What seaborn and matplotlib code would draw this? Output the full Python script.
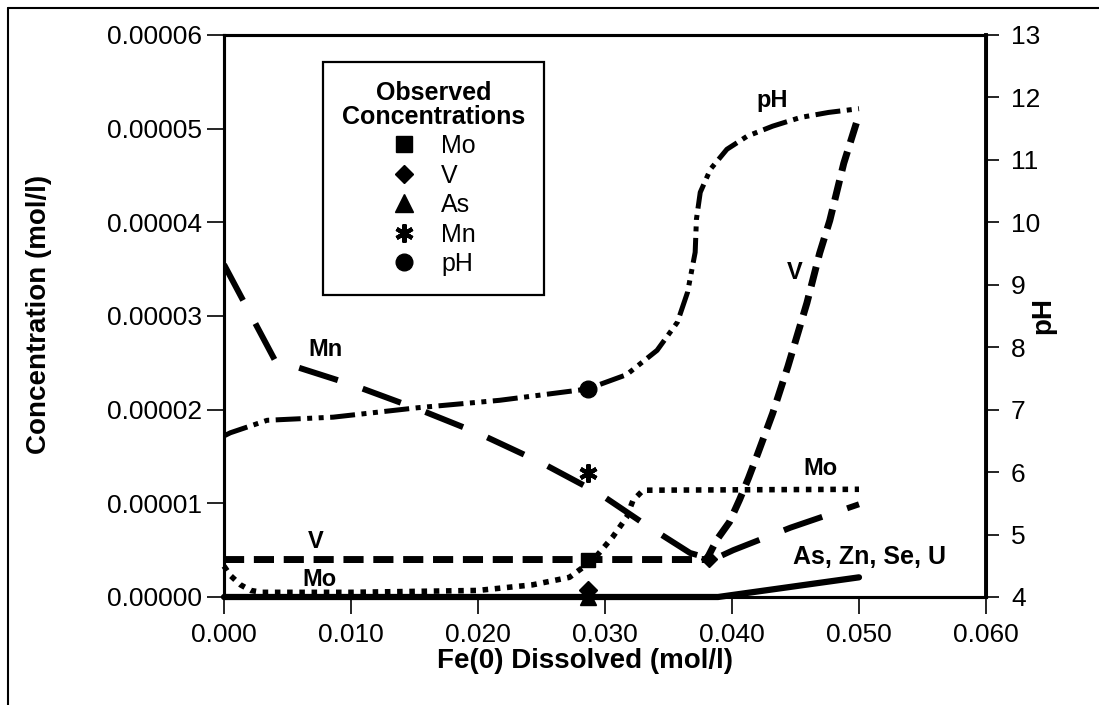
import matplotlib
matplotlib.use("Agg")
import matplotlib.pyplot as plt
import seaborn as sns
from matplotlib.lines import Line2D
from matplotlib.ticker import FormatStrFormatter, MultipleLocator

# values (x = Fe(0) dissolved, mol/l)
fe_mn = [0.0, 0.0040, 0.0100, 0.0154, 0.0200, 0.0249, 0.0296, 0.0331, 0.0367, 0.0385, 0.0401, 0.0446, 0.0500]
mn = [3.55e-5, 2.53e-5, 2.27e-5, 2.00e-5, 1.75e-5, 1.44e-5, 1.10e-5, 0.78e-5, 0.47e-5, 0.40e-5, 0.50e-5, 0.74e-5, 0.99e-5]

fe_v = [0.0, 0.0380, 0.0388, 0.0398, 0.0406, 0.0413, 0.0420, 0.0432, 0.0444, 0.0459, 0.0469, 0.0477, 0.0488, 0.0500]
v = [0.40e-5, 0.40e-5, 0.61e-5, 0.80e-5, 1.04e-5, 1.27e-5, 1.52e-5, 1.96e-5, 2.46e-5, 3.14e-5, 3.67e-5, 4.02e-5, 4.63e-5, 5.15e-5]

fe_mo = [0.0, 0.0005, 0.0013, 0.0021, 0.0030, 0.0100, 0.0200, 0.0243, 0.0272, 0.0291, 0.0306, 0.0317, 0.0322, 0.0330, 0.0500]
mo = [0.33e-5, 0.23e-5, 0.13e-5, 0.07e-5, 0.05e-5, 0.05e-5, 0.07e-5, 0.13e-5, 0.21e-5, 0.40e-5, 0.64e-5, 0.85e-5, 1.03e-5, 1.14e-5, 1.15e-5]

fe_as = [0.0, 0.0389, 0.0500]
as_zn = [0.0, 0.0, 0.21e-5]

fe_ph = [0.0, 0.0005, 0.0034, 0.0086, 0.0152, 0.0217, 0.0286, 0.0317, 0.0341, 0.0357, 0.0365,
         0.0371, 0.0372, 0.0375, 0.0383, 0.0396, 0.0412, 0.0432, 0.0454, 0.0476, 0.0500]
ph = [6.58, 6.63, 6.83, 6.88, 7.03, 7.15, 7.33, 7.56, 7.95, 8.40, 8.88,
      9.52, 10.05, 10.48, 10.85, 11.17, 11.38, 11.54, 11.68, 11.76, 11.82]

# observed points
obs_fe = 0.02866
obs_mo = 0.40e-5
obs_v = 0.07e-5
obs_as = 0.0
obs_mn = 1.32e-5
obs_ph = 7.33
obs2_fe = 0.0382
obs2_v = 0.41e-5

sns.set_theme(style="ticks")
plt.rcParams["font.family"] = ["Liberation Sans", "DejaVu Sans"]
plt.rcParams["text.color"] = "black"
plt.rcParams["axes.labelcolor"] = "black"

fig, ax = plt.subplots(figsize=(10.99, 7.05), dpi=100)
fig.subplots_adjust(left=224 / 1099, right=986 / 1099, top=1 - 35 / 705, bottom=1 - 597 / 705)
ax2 = ax.twinx()

k = "black"
sns.lineplot(x=fe_mn, y=mn, ax=ax, color=k, lw=4.3, linestyle=(0, (6.8, 4.4)), errorbar=None)
sns.lineplot(x=fe_v, y=v, ax=ax, color=k, lw=5.0, linestyle=(0, (2.9, 1.4)), errorbar=None)
sns.lineplot(x=fe_mo, y=mo, ax=ax, color=k, lw=4.0, linestyle=(0, (1.0, 1.2)), errorbar=None, clip_on=False)
sns.lineplot(x=fe_as, y=as_zn, ax=ax, color=k, lw=4.5, errorbar=None, clip_on=False)
sns.lineplot(x=fe_ph, y=ph, ax=ax2, color=k, lw=3.6, linestyle=(0, (5, 1.3, 1, 1.3, 1, 1.3)), errorbar=None)

ax.plot([obs_fe], [obs_mo], marker="s", ms=10, color=k, ls="none")
ax.plot([obs_fe], [obs_v], marker="D", ms=9, color=k, ls="none", clip_on=False)
ax.plot([obs_fe], [obs_as], marker="^", ms=11, color=k, ls="none", clip_on=False)
ax.plot([obs2_fe], [obs2_v], marker="D", ms=8, color=k, ls="none")
ax.plot([obs_fe], [obs_mn], marker=(6, 2, 0), ms=13, mew=3, color=k, ls="none")
ax2.plot([obs_fe], [obs_ph], marker="o", ms=12, color=k, ls="none")

ax.set_xlim(0, 0.06)
ax.set_ylim(0, 0.00006)
ax2.set_ylim(4, 13)
ax.xaxis.set_major_locator(MultipleLocator(0.01))
ax.yaxis.set_major_locator(MultipleLocator(0.00001))
ax2.yaxis.set_major_locator(MultipleLocator(1))
ax.xaxis.set_major_formatter(FormatStrFormatter("%.3f"))
ax.yaxis.set_major_formatter(FormatStrFormatter("%.5f"))

ax.tick_params(axis="both", direction="out", length=12, width=1.2, labelsize=19, colors=k)
ax.tick_params(axis="y", pad=4)
ax.tick_params(axis="x", pad=7)
ax2.tick_params(axis="y", direction="out", length=9, width=1.2, labelsize=19, pad=9, colors=k)

for a in (ax, ax2):
    for s in a.spines.values():
        s.set_linewidth(2.2)
        s.set_color(k)
ax2.spines["right"].set_linewidth(2.8)

ax.set_xlabel("Fe(0) Dissolved (mol/l)", fontsize=20, fontweight="bold", color=k)
ax.xaxis.set_label_coords(0.474, -0.091)
ax.set_ylabel("Concentration (mol/l)", fontsize=20, fontweight="bold", color=k)
ax.yaxis.set_label_coords(-0.226, 0.502)
ax2.set_ylabel("pH", fontsize=20, fontweight="bold", color=k)
ax2.yaxis.set_label_coords(1.058, 0.50)

lab = dict(ha="center", va="center", fontweight="bold", fontsize=17, color=k)
ax.text(0.0080, 2.64e-5, "Mn", **lab)
ax.text(0.0432, 5.30e-5, "pH", **lab)
ax.text(0.0449, 3.46e-5, "V", **lab)
ax.text(0.0470, 1.37e-5, "Mo", **lab)
ax.text(0.0072, 0.59e-5, "V", **lab)
ax.text(0.0075, 0.19e-5, "Mo", **lab)
ax.text(0.0508, 0.43e-5, "As, Zn, Se, U", ha="center", va="center", fontweight="bold", fontsize=18, color=k)

handles = [
    Line2D([], [], marker="s", ms=12, color=k, ls="none", label="Mo"),
    Line2D([], [], marker="D", ms=9, color=k, ls="none", label="V"),
    Line2D([], [], marker="^", ms=13, color=k, ls="none", label="As"),
    Line2D([], [], marker=(6, 2, 0), ms=13, mew=3, color=k, ls="none", label="Mn"),
    Line2D([], [], marker="o", ms=12, color=k, ls="none", label="pH"),
]
leg = ax2.legend(handles=handles, title="Observed\nConcentrations", loc="upper left",
                 bbox_to_anchor=(0.13, 0.952), borderaxespad=0, fontsize=18,
                 title_fontproperties={"weight": "bold", "size": 18}, alignment="center",
                 frameon=True, fancybox=False, framealpha=1, edgecolor=k,
                 handlelength=1.0, handletextpad=1.0, labelspacing=0.22, borderpad=0.75)
leg.get_frame().set_linewidth(1.6)
leg.get_title().set_linespacing(1.0)
leg.get_title().set_multialignment("center")
leg.set_zorder(10)

# outer frame of the original figure (left and top edges)
fig.add_artist(Line2D([8 / 1099, 8 / 1099], [0, 1 - 8 / 705], transform=fig.transFigure, color=k, lw=1.5))
fig.add_artist(Line2D([8 / 1099, 1], [1 - 8 / 705, 1 - 8 / 705], transform=fig.transFigure, color=k, lw=1.5))

fig.savefig("out.png", dpi=100, facecolor="white")
